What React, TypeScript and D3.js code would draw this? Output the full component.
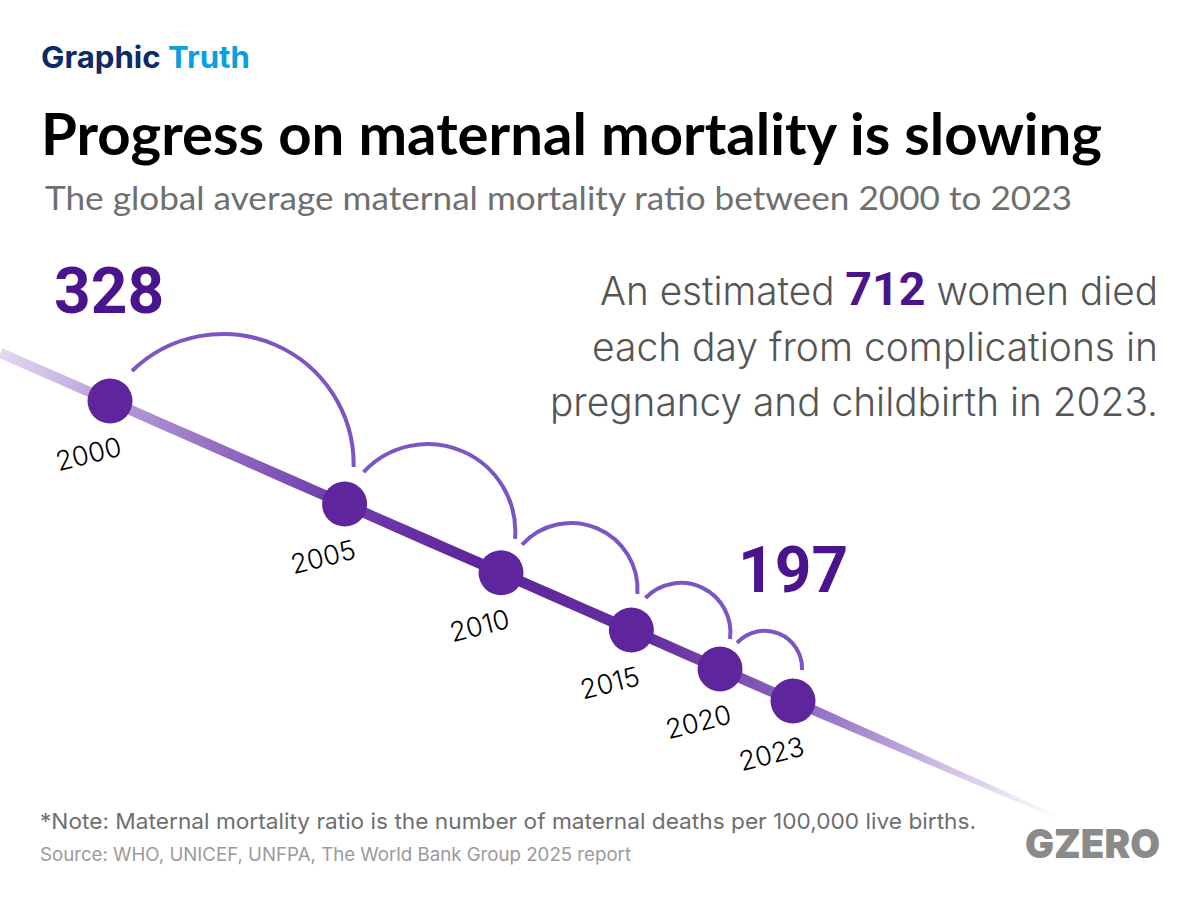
import React from "react";
import * as d3 from "d3";

const years = ["2000", "2005", "2010", "2015", "2020", "2023"];
const ratios = [328, 283, 253, 228, 211, 197];
const lineExtent = [349, 146];
const calloutLines = [
  ["An estimated ", "712", " women died"],
  ["each day from complications in"],
  ["pregnancy and childbirth in 2023."],
];
const calloutWidths = [558, 566, 608];

const x = d3.scaleLinear().domain([328, 197]).range([110, 793]);
const y = d3.scaleLinear().domain([328, 197]).range([401, 701]);
const width = d3.scaleLinear().domain([349, 270, 197, 146]).range([10, 11, 10.5, 3.5]);

// Where each hop leaves one dot and lands beside the next, relative to the dot centre.
const hopStart = [[22, -30], [19, -32], [21, -28], [14, -32], [17, -26]];
const hopEnd = [[9, -37], [14, -34], [6, -36], [10, -30], [9, -31]];
const hopBulge = [1.85, 1.89, 1.89, 1.9, 1.88];

const SANS = "Inter, sans-serif";
const GEO = "Lato, Inter, sans-serif";
const NUM = "Roboto, Inter, sans-serif";

function ribbon() {
  const [a, b] = lineExtent;
  const samples = d3.range(0, 41).map((i) => a + ((b - a) * i) / 40);
  const dx = x(b) - x(a);
  const dy = y(b) - y(a);
  const len = Math.hypot(dx, dy);
  const nx = -dy / len;
  const ny = dx / len;
  const area = d3
    .line<[number, number]>()
    .x((d) => d[0])
    .y((d) => d[1]);
  const top = samples.map((v) => [x(v) + (nx * width(v)) / 2, y(v) + (ny * width(v)) / 2] as [number, number]);
  const bottom = samples.map((v) => [x(v) - (nx * width(v)) / 2, y(v) - (ny * width(v)) / 2] as [number, number]);
  return area([...top, ...bottom.reverse()]) + "Z";
}

function hop(i: number) {
  const sx = x(ratios[i]) + hopStart[i][0];
  const sy = y(ratios[i]) + hopStart[i][1];
  const ex = x(ratios[i + 1]) + hopEnd[i][0];
  const ey = y(ratios[i + 1]) + hopEnd[i][1];
  const r = Math.hypot(ex - sx, ey - sy) / hopBulge[i];
  return `M${sx},${sy}A${r},${r} 0 0 1 ${ex},${ey}`;
}

export default function App() {
  return (
    <svg width={1200} height={900} viewBox="0 0 1200 900" style={{ position: "absolute", left: 0, top: 0, background: "#fff" }}>
      <defs>
        <linearGradient id="ribbonFill" gradientUnits="userSpaceOnUse" x1={x(349)} y1={y(349)} x2={x(146)} y2={y(146)}>
          <stop offset="0" stopColor="#e3daf0" />
          <stop offset="0.1" stopColor="#b9a0da" />
          <stop offset="0.3" stopColor="#7342ad" />
          <stop offset="0.45" stopColor="#5e259d" />
          <stop offset="0.62" stopColor="#66309f" />
          <stop offset="0.76" stopColor="#8e68c2" />
          <stop offset="0.9" stopColor="#d3c4e8" />
          <stop offset="1" stopColor="#ffffff" />
        </linearGradient>
      </defs>

      <text x={41} y={68} fontFamily={SANS} fontWeight={700} fontSize={30} textLength={209} lengthAdjust="spacingAndGlyphs">
        <tspan fill="#0b2a66">Graphic </tspan>
        <tspan fill="#0a9fdf">Truth</tspan>
      </text>
      <text x={41} y={155} fontFamily={GEO} fontWeight={700} fontSize={58} fill="#000" textLength={1061} lengthAdjust="spacingAndGlyphs">
        Progress on maternal mortality is slowing
      </text>
      <text x={45} y={210} fontFamily={GEO} fontWeight={400} fontSize={33} fill="#6f6f6f" textLength={1027} lengthAdjust="spacingAndGlyphs">
        The global average maternal mortality ratio between 2000 to 2023
      </text>

      <path d={ribbon()} fill="url(#ribbonFill)" />

      {ratios.slice(0, -1).map((_, i) => (
        <path key={i} d={hop(i)} fill="none" stroke="#7c55c4" strokeWidth={4} />
      ))}
      {ratios.map((v, i) => (
        <circle key={years[i]} cx={x(v)} cy={y(v)} r={22.5} fill="#5e259d" />
      ))}
      {ratios.map((v, i) => (
        <text
          key={years[i]}
          transform={`translate(${x(v) - 21},${y(v) + 55}) rotate(-14)`}
          textAnchor="middle"
          dominantBaseline="middle"
          fontFamily={SANS}
          fontWeight={300}
          fontSize={27}
          fill="#000"
        >
          {years[i]}
        </text>
      ))}

      <text x={54} y={313} fontFamily={NUM} fontWeight={700} fontSize={64} fill="#4a148c">
        {ratios[0]}
      </text>
      <text x={738} y={592} fontFamily={NUM} fontWeight={700} fontSize={64} fill="#4a148c">
        {ratios[ratios.length - 1]}
      </text>

      {calloutLines.map((parts, i) => (
        <text
          key={i}
          x={1158 - calloutWidths[i]}
          y={305 + i * 55.5}
          fontFamily={SANS}
          fontWeight={300}
          fontSize={39}
          fill="#555"
          textLength={calloutWidths[i]}
          lengthAdjust="spacingAndGlyphs"
        >
          {parts.map((p, j) =>
            p === "712" ? (
              <tspan key={j} fontFamily={NUM} fontSize={47} fontWeight={700} fill="#4a148c">
                {p}
              </tspan>
            ) : (
              <tspan key={j}>{p}</tspan>
            )
          )}
        </text>
      ))}

      <text x={40} y={829} fontFamily={SANS} fontWeight={400} fontSize={22} fill="#6f6f6f" textLength={936} lengthAdjust="spacingAndGlyphs">
        *Note: Maternal mortality ratio is the number of maternal deaths per 100,000 live births.
      </text>
      <text x={40} y={861} fontFamily={SANS} fontWeight={400} fontSize={18.5} fill="#9a9a9a" textLength={591} lengthAdjust="spacingAndGlyphs">
        Source: WHO, UNICEF, UNFPA, The World Bank Group 2025 report
      </text>
      <text x={1025} y={858} fontFamily={SANS} fontWeight={900} fontSize={40} fill="#8a8a8a" textLength={135} lengthAdjust="spacingAndGlyphs">
        GZERO
      </text>
    </svg>
  );
}
